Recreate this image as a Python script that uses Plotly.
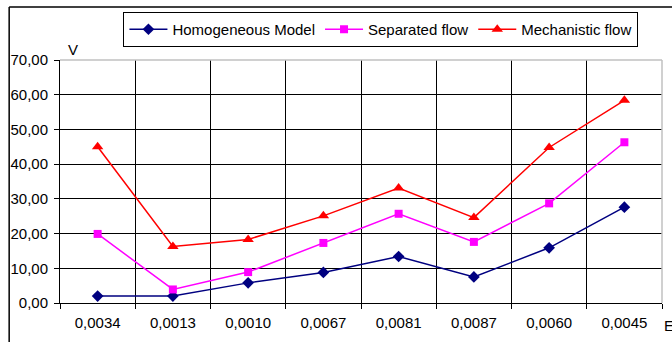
import plotly.graph_objects as go

categories = ["0,0034", "0,0013", "0,0010", "0,0067", "0,0081", "0,0087", "0,0060", "0,0045"]
homogeneous = [2.0, 2.0, 5.8, 8.8, 13.4, 7.5, 15.9, 27.6]
separated = [19.9, 3.9, 8.9, 17.3, 25.7, 17.6, 28.7, 46.3]
mechanistic = [45.0, 16.3, 18.3, 25.1, 33.1, 24.6, 44.8, 58.4]
series_names = ["Homogeneous Model", "Separated flow", "Mechanistic flow"]

FONT = "Liberation Sans, Arial, sans-serif"
W, H = 672, 342
L, R, T, B = 58, 10, 60, 39
pw, ph = W - L - R, H - T - B

def px(x):
    return (x - L) / pw

def py(y):
    return (H - B - y) / ph

fig = go.Figure()
fig.add_trace(go.Scatter(x=categories, y=homogeneous, name=series_names[0], mode="lines+markers",
                         line=dict(color="#000080", width=1.5),
                         marker=dict(symbol="diamond", size=9, color="#000080")))
fig.add_trace(go.Scatter(x=categories, y=separated, name=series_names[1], mode="lines+markers",
                         line=dict(color="#FF00FF", width=1.5),
                         marker=dict(symbol="square", size=8, color="#FF00FF")))
fig.add_trace(go.Scatter(x=categories, y=mechanistic, name=series_names[2], mode="lines+markers",
                         line=dict(color="#FF0000", width=1.5),
                         marker=dict(symbol="triangle-up", size=10, color="#FF0000")))

fig.update_layout(
    width=W, height=H,
    margin=dict(l=L, r=R, t=T, b=B, pad=0),
    paper_bgcolor="white", plot_bgcolor="white",
    separators=", ",
    font=dict(family=FONT, size=15, color="black"),
    showlegend=True,
    legend=dict(orientation="h", x=px(380), xanchor="center", y=py(12), yanchor="top",
                bordercolor="black", borderwidth=1, bgcolor="white",
                font=dict(family=FONT, size=15, color="black"),
                itemwidth=38, tracegroupgap=0),
    xaxis=dict(type="category", range=[-0.5, 7.5], tickson="boundaries",
               ticks="outside", ticklen=5, tickcolor="black", tickwidth=1,
               showgrid=True, gridcolor="black", gridwidth=1,
               showline=True, linecolor="black", linewidth=1,
               ticklabelstandoff=6,
               tickfont=dict(family=FONT, size=15, color="black"), zeroline=False,
               fixedrange=True),
    yaxis=dict(range=[0, 70], dtick=10, tick0=0, tickformat=".2f",
               ticks="outside", ticklen=5, tickcolor="black", tickwidth=1,
               showgrid=True, gridcolor="black", gridwidth=1,
               showline=True, linecolor="black", linewidth=1, zeroline=False,
               ticklabelstandoff=3,
               tickfont=dict(family=FONT, size=15, color="black"), fixedrange=True),
    shapes=[
        dict(type="line", xref="paper", yref="paper", x0=0, x1=1, y0=1, y1=1,
             line=dict(color="#C0C0C0", width=1.5), layer="above"),
        dict(type="line", xref="paper", yref="paper", x0=1, x1=1, y0=0, y1=1,
             line=dict(color="#C0C0C0", width=1.5), layer="above"),
        dict(type="line", xref="paper", yref="paper", x0=px(7), x1=px(700), y0=py(7), y1=py(7),
             line=dict(color="black", width=1.5)),
        dict(type="line", xref="paper", yref="paper", x0=px(7), x1=px(7), y0=py(7), y1=py(360),
             line=dict(color="black", width=1.5)),
    ],
    annotations=[
        dict(text="V", xref="paper", yref="paper", x=px(71), y=py(49), xanchor="center", yanchor="middle",
             showarrow=False, font=dict(family=FONT, size=15, color="black")),
        dict(text="E", xref="paper", yref="paper", x=px(662), y=py(325), xanchor="left", yanchor="middle",
             showarrow=False, font=dict(family=FONT, size=15, color="black")),
    ],
)

fig.write_html("out.html")
